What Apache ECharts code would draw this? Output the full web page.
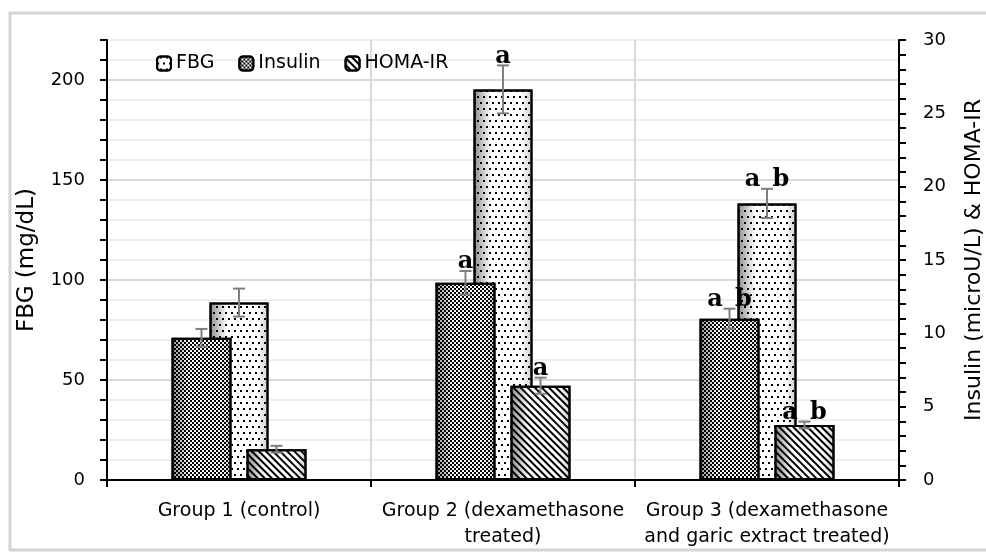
<!DOCTYPE html>
<html>
<head>
<meta charset="utf-8">
<script src="https://cdn.jsdelivr.net/npm/echarts@6/dist/echarts.min.js"></script>
<style>
  html, body { margin: 0; padding: 0; background: #fff; }
  #chart { width: 986px; height: 552px; }
</style>
</head>
<body>
<div id="chart"></div>
<script>
const categories = [
  "Group 1 (control)",
  "Group 2 (dexamethasone\ntreated)",
  "Group 3 (dexamethasone\nand garic extract treated)",
];
const fbgValues = [88.7, 195.3, 138.3];
const fbgErrors = [7, 12, 7.3];
const insulinValues = [9.7, 13.45, 11.0];
const insulinErrors = [0.6, 0.8, 0.68];
const homaValues = [2.1, 6.43, 3.75];
const homaErrors = [0.23, 0.55, 0.23];
const fbgLetters = ["", "a", "a\u2002b"];
const insulinLetters = ["", "a", "a\u2002b"];
const homaLetters = ["", "a", "a\u2002b"];
const leftTicks = [0, 50, 100, 150, 200];
const rightTicks = [0, 5, 10, 15, 20, 25, 30];

const FONT = "DejaVu Sans";
const barW = 60;
const barGap = 15;

var chartDom = document.getElementById("chart");
var myChart = echarts.init(chartDom);

const shade = () =>
  new echarts.graphic.LinearGradient(0, 0, 1, 0, [
    { offset: 0, color: "#8a8a8a" },
    { offset: 0.3, color: "#ffffff" },
    { offset: 0.8, color: "#ffffff" },
    { offset: 1, color: "#cfcfcf" },
  ]);

const dots = {
  symbol: "rect", symbolSize: 1, color: "#000",
  dashArrayX: [[2, 4], [0, 3, 2, 1]], dashArrayY: [2, 4],
};
const checker = {
  symbol: "rect", symbolSize: 1, color: "#000",
  dashArrayX: [[2, 2], [0, 2, 2, 0]], dashArrayY: [2, 0],
};
const stripes = {
  symbol: "rect", symbolSize: 1, color: "#000",
  dashArrayX: [1, 0], dashArrayY: [2, 3], rotation: Math.PI / 4,
};

// error bar + significance letters drawn above each bar
function errorSeries(values, errors, letters, offset, xi, yi) {
  return {
    type: "custom",
    xAxisIndex: xi,
    yAxisIndex: yi,
    z: 6,
    silent: true,
    data: values.map((v, i) => [i, v, errors[i]]),
    encode: { x: 0, y: 1 },
    renderItem: function (params, api) {
      const i = api.value(0);
      const v = api.value(1);
      const e = api.value(2);
      const top = api.coord([i, v + e]);
      const bot = api.coord([i, v - e]);
      const cx = top[0] + offset;
      const st = { stroke: "#7f7f7f", lineWidth: 2 };
      return {
        type: "group",
        children: [
          { type: "line", shape: { x1: cx, y1: top[1], x2: cx, y2: bot[1] }, style: st },
          { type: "line", shape: { x1: cx - 6, y1: top[1], x2: cx + 6, y2: top[1] }, style: st },
          { type: "line", shape: { x1: cx - 6, y1: bot[1], x2: cx + 6, y2: bot[1] }, style: st },
          {
            type: "text",
            style: {
              text: letters[params.dataIndex],
              x: cx,
              y: top[1] + 3,
              align: "center",
              verticalAlign: "bottom",
              font: "bold 24px 'DejaVu Serif'",
              fill: "#000",
            },
          },
        ],
      };
    },
  };
}

var option = {
  animation: false,
  backgroundColor: "#fff",
  graphic: [
    {
      type: "rect",
      shape: { x: 10, y: 13, width: 990, height: 537 },
      style: { fill: "none", stroke: "#d4d4d4", lineWidth: 3 },
      silent: true,
    },
  ],
  legend: {
    data: ["FBG", "Insulin", "HOMA-IR"],
    left: 151,
    top: 49,
    itemWidth: 14,
    itemHeight: 14,
    itemGap: 24,
    textStyle: { fontFamily: FONT, fontSize: 19, color: "#000" },
  },
  grid: { left: 107, right: 87, top: 40, bottom: 72, outerBoundsMode: "none" },
  xAxis: [
    {
      type: "category",
      data: categories,
      axisLine: { lineStyle: { color: "#000", width: 2 } },
      axisTick: { show: true, length: 7, lineStyle: { color: "#000", width: 2 } },
      splitLine: { show: true, lineStyle: { color: "#d9d9d9", width: 2 } },
      axisLabel: {
        interval: 0,
        margin: 18,
        fontFamily: FONT,
        fontSize: 19,
        lineHeight: 26,
        color: "#000",
      },
    },
    { type: "category", data: categories, show: false },
  ],
  yAxis: [
    {
      type: "value",
      min: 0,
      max: 220,
      interval: 10,
      name: "FBG (mg/dL)",
      nameLocation: "middle",
      nameRotate: 90,
      nameGap: 68,
      nameTextStyle: { fontFamily: FONT, fontSize: 23, color: "#000" },
      axisLine: { show: true, lineStyle: { color: "#000", width: 2 } },
      axisTick: { show: true, length: 7, lineStyle: { color: "#000", width: 2 } },
      axisLabel: {
        margin: 22,
        fontFamily: FONT,
        fontSize: 18,
        color: "#000",
        formatter: (v) => (leftTicks.includes(v) ? String(v) : ""),
      },
      splitLine: { show: true, lineStyle: { color: "#efefef", width: 2 } },
    },
    {
      type: "value",
      position: "right",
      min: 0,
      max: 30,
      interval: 1,
      name: "Insulin (microU/L) & HOMA-IR",
      nameLocation: "middle",
      nameRotate: 90,
      nameGap: 64,
      nameTextStyle: { fontFamily: FONT, fontSize: 22, color: "#000" },
      axisLine: { show: true, lineStyle: { color: "#000", width: 2 } },
      axisTick: { show: true, length: 7, lineStyle: { color: "#000", width: 2 } },
      axisLabel: {
        margin: 24,
        fontFamily: FONT,
        fontSize: 18,
        color: "#000",
        formatter: (v) => (rightTicks.includes(v) ? String(v) : ""),
      },
      splitLine: { show: false },
    },
    {
      // darker major gridlines every 50
      type: "value",
      position: "left",
      min: 0,
      max: 220,
      interval: 50,
      axisLine: { show: false },
      axisTick: { show: false },
      axisLabel: { show: false },
      splitLine: {
        show: true,
        showMaxLine: false,
        lineStyle: { color: "#d9d9d9", width: 2 },
      },
    },
  ],
  series: [
    {
      name: "FBG",
      type: "bar",
      xAxisIndex: 0,
      yAxisIndex: 0,
      z: 2,
      barWidth: 59,
      itemStyle: { color: shade(), decal: dots, borderColor: "#000", borderWidth: 2 },
      data: fbgValues,
    },
    {
      name: "Insulin",
      type: "bar",
      xAxisIndex: 1,
      yAxisIndex: 1,
      z: 3,
      barWidth: barW,
      barGap: (barGap / barW) * 100 + "%",
      itemStyle: { color: shade(), decal: checker, borderColor: "#000", borderWidth: 2 },
      data: insulinValues,
    },
    {
      name: "HOMA-IR",
      type: "bar",
      xAxisIndex: 1,
      yAxisIndex: 1,
      z: 3,
      barWidth: barW,
      barGap: (barGap / barW) * 100 + "%",
      itemStyle: { color: shade(), decal: stripes, borderColor: "#000", borderWidth: 2 },
      data: homaValues,
    },
    errorSeries(fbgValues, fbgErrors, fbgLetters, 0, 0, 0),
    errorSeries(insulinValues, insulinErrors, insulinLetters, -(barW + barGap) / 2, 1, 1),
    errorSeries(homaValues, homaErrors, homaLetters, (barW + barGap) / 2, 1, 1),
  ],
};

option && myChart.setOption(option);
</script>
</body>
</html>
